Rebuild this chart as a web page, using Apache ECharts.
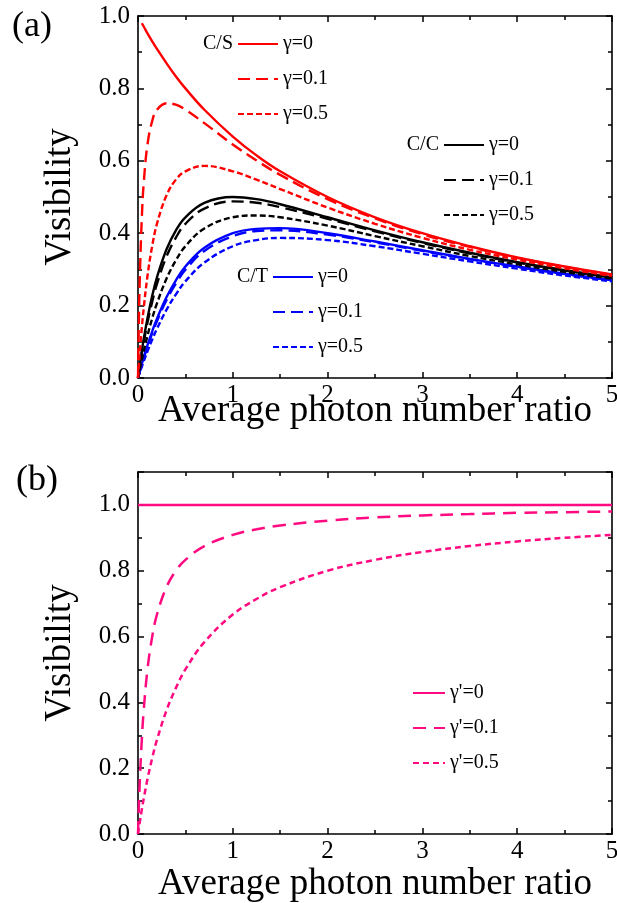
<!DOCTYPE html>
<html>
<head>
<meta charset="utf-8">
<script src="https://cdn.jsdelivr.net/npm/echarts@6/dist/echarts.min.js"></script>
<style>
html,body{margin:0;padding:0;background:#fff;}
#chart{width:617px;height:903px;}
</style>
</head>
<body>
<div id="chart"></div>
<script>
// x grid (average photon number ratio)
var xs = [0, 0.01, 0.02, 0.04, 0.06, 0.1, 0.15, 0.2, 0.3, 0.4, 0.5, 0.7, 1, 1.25, 1.5, 2, 2.5, 3, 3.5, 4, 4.5, 5];

// Panel (a): C/S
var csG0 = [null, null, null, 0.980, 0.971, 0.952, 0.930, 0.909, 0.870, 0.833, 0.800, 0.741, 0.667, 0.615, 0.571, 0.500, 0.444, 0.400, 0.364, 0.333, 0.308, 0.286];
var csG1 = [0, 0.167, 0.285, 0.441, 0.537, 0.645, 0.710, 0.741, 0.759, 0.755, 0.741, 0.704, 0.645, 0.601, 0.561, 0.494, 0.441, 0.397, 0.362, 0.332, 0.307, 0.285];
var csG5 = [0, 0.0385, 0.074, 0.138, 0.192, 0.282, 0.365, 0.426, 0.504, 0.548, 0.571, 0.586, 0.571, 0.548, 0.522, 0.471, 0.426, 0.387, 0.354, 0.327, 0.303, 0.282];
// Panel (a): C/C
var ccG0 = [0, 0.0196, 0.0384, 0.074, 0.107, 0.165, 0.227, 0.278, 0.355, 0.408, 0.444, 0.484, 0.500, 0.494, 0.480, 0.444, 0.408, 0.375, 0.346, 0.320, 0.298, 0.278];
var ccG1 = [0, 0.0179, 0.0351, 0.0677, 0.098, 0.153, 0.211, 0.260, 0.335, 0.388, 0.426, 0.468, 0.488, 0.484, 0.472, 0.440, 0.405, 0.373, 0.344, 0.319, 0.297, 0.277];
var ccG5 = [0, 0.0132, 0.026, 0.0506, 0.0739, 0.117, 0.165, 0.206, 0.274, 0.325, 0.364, 0.413, 0.444, 0.449, 0.444, 0.421, 0.392, 0.364, 0.337, 0.314, 0.293, 0.274];
// Panel (a): C/T
var ctG0 = [0, 0.0099, 0.0196, 0.0384, 0.0565, 0.0905, 0.129, 0.164, 0.223, 0.270, 0.308, 0.360, 0.400, 0.412, 0.414, 0.400, 0.377, 0.353, 0.329, 0.308, 0.288, 0.270];
var ctG1 = [0, 0.0094, 0.0187, 0.0367, 0.054, 0.0866, 0.124, 0.157, 0.215, 0.261, 0.299, 0.351, 0.392, 0.406, 0.408, 0.396, 0.375, 0.351, 0.328, 0.307, 0.287, 0.270];
var ctG5 = [0, 0.0079, 0.0157, 0.031, 0.0457, 0.0738, 0.106, 0.136, 0.188, 0.231, 0.267, 0.319, 0.364, 0.381, 0.387, 0.381, 0.364, 0.343, 0.322, 0.302, 0.283, 0.267];
// Panel (b)
var bG0 = [1, 1, 1, 1, 1, 1, 1, 1, 1, 1, 1, 1, 1, 1, 1, 1, 1, 1, 1, 1, 1, 1];
var bG1 = [0, 0.0909, 0.167, 0.286, 0.375, 0.500, 0.600, 0.667, 0.750, 0.800, 0.833, 0.875, 0.909, 0.926, 0.9375, 0.952, 0.962, 0.968, 0.972, 0.976, 0.978, 0.980];
var bG5 = [0, 0.0196, 0.0385, 0.074, 0.107, 0.167, 0.231, 0.286, 0.375, 0.444, 0.500, 0.583, 0.667, 0.714, 0.750, 0.800, 0.833, 0.857, 0.875, 0.889, 0.900, 0.909];

var xTicks = [0, 1, 2, 3, 4, 5];
var legendLabels = {
  CS0: 'γ=0', CS1: 'γ=0.1', CS5: 'γ=0.5',
  CC0: 'γ=0', CC1: 'γ=0.1', CC5: 'γ=0.5',
  CT0: 'γ=0', CT1: 'γ=0.1', CT5: 'γ=0.5',
  B0: "γ'=0", B1: "γ'=0.1", B5: "γ'=0.5"
};

var FONT = 'Liberation Serif';
var RED = '#ff0000', BLACK = '#000000', BLUE = '#0000ff', PINK = '#ff0a80';
var LONG = [12, 6], SHORT = [6, 3];

function pairs(arr) {
  var out = [];
  for (var i = 0; i < xs.length; i++) { if (arr[i] !== null) out.push([xs[i], arr[i]]); }
  return out;
}
function line(name, arr, color, type, xi, yi, w) {
  return {
    name: name, type: 'line', xAxisIndex: xi, yAxisIndex: yi,
    data: pairs(arr), symbol: 'none', smooth: 0.4,
    color: color,
    lineStyle: { color: color, width: w || 2.4, type: type, cap: 'butt' },
    itemStyle: { color: color },
    emphasis: { disabled: true }, silent: true, animation: false
  };
}

var axisLineStyle = { color: '#000', width: 1.6 };
function xAxisDef(grid, pos, showLabel, title, gap) {
  return {
    type: 'value', gridIndex: grid, position: pos, min: 0, max: 5, interval: 1,
    axisLine: { show: true, onZero: false, lineStyle: axisLineStyle },
    axisTick: { show: true, inside: true, length: 6, lineStyle: { color: '#000', width: 1.5 } },
    minorTick: { show: true, splitNumber: 2, length: 4, lineStyle: { color: '#000', width: 1.5 } },
    splitLine: { show: false }, minorSplitLine: { show: false },
    axisLabel: { show: showLabel, fontSize: 25, fontFamily: FONT, color: '#000', margin: 5,
      formatter: function (v) { return xTicks.indexOf(v) >= 0 ? String(v) : ''; } },
    name: title || '', nameLocation: 'middle', nameGap: gap || 30, nameMoveOverlap: false,
    nameTextStyle: { fontSize: 37, fontFamily: FONT, color: '#000' }
  };
}
function yAxisDef(grid, pos, showLabel, max, title) {
  return {
    type: 'value', gridIndex: grid, position: pos, min: 0, max: max, interval: 0.2,
    axisLine: { show: true, onZero: false, lineStyle: axisLineStyle },
    axisTick: { show: true, inside: true, length: 6, lineStyle: { color: '#000', width: 1.5 } },
    minorTick: { show: true, splitNumber: 2, length: 4, lineStyle: { color: '#000', width: 1.5 } },
    splitLine: { show: false }, minorSplitLine: { show: false },
    axisLabel: { show: showLabel, fontSize: 25, fontFamily: FONT, color: '#000', margin: 8,
      showMaxLabel: max === 1.0, formatter: function (v) { return v.toFixed(1); } },
    name: title || '', nameLocation: 'middle', nameGap: 59, nameMoveOverlap: false,
    nameTextStyle: { fontSize: 37, fontFamily: FONT, color: '#000' }
  };
}

function legendDef(names, left, top, w) {
  return {
    data: names, orient: 'vertical', left: left, top: top, padding: 0,
    itemWidth: w, itemHeight: 12, itemGap: 15, selectedMode: false,
    itemStyle: { opacity: 0 },
    textStyle: { fontSize: 20, fontFamily: FONT, color: '#000', lineHeight: 20 },
    formatter: function (n) { return legendLabels[n]; }
  };
}

var option = {
  backgroundColor: '#fff',
  animation: false,
  grid: [
    { left: 138, top: 16, width: 474, height: 362, outerBoundsMode: 'none', containLabel: false },
    { left: 138, top: 472, width: 474, height: 362, outerBoundsMode: 'none', containLabel: false }
  ],
  xAxis: [
    xAxisDef(0, 'bottom', true, 'Average photon number ratio', 15),
    xAxisDef(0, 'top', false),
    xAxisDef(1, 'bottom', true, 'Average photon number ratio', 32),
    xAxisDef(1, 'top', false)
  ],
  yAxis: [
    yAxisDef(0, 'left', true, 1.0, 'Visibility'),
    yAxisDef(0, 'right', false, 1.0),
    yAxisDef(1, 'left', true, 1.1, 'Visibility'),
    yAxisDef(1, 'right', false, 1.1)
  ],
  legend: [
    legendDef(['CS0', 'CS1', 'CS5'], 237, 34, 40),
    legendDef(['CC0', 'CC1', 'CC5'], 443, 135, 40),
    legendDef(['CT0', 'CT1', 'CT5'], 272, 267, 40),
    legendDef(['B0', 'B1', 'B5'], 412, 683, 32)
  ],
  graphic: [
    { type: 'text', left: 12, top: 9, style: { text: '(a)', font: '36px "Liberation Serif"', fill: '#000' } },
    { type: 'text', left: 16, top: 463, style: { text: '(b)', font: '36px "Liberation Serif"', fill: '#000' } },
    { type: 'text', x: 233, y: 44, style: { text: 'C/S', font: '20px "Liberation Serif"', fill: '#000', align: 'right', verticalAlign: 'middle' } },
    { type: 'text', x: 439, y: 145, style: { text: 'C/C', font: '20px "Liberation Serif"', fill: '#000', align: 'right', verticalAlign: 'middle' } },
    { type: 'text', x: 268, y: 277, style: { text: 'C/T', font: '20px "Liberation Serif"', fill: '#000', align: 'right', verticalAlign: 'middle' } }
  ],
  series: [
    line('CT0', ctG0, BLUE, 'solid', 0, 0),
    line('CT1', ctG1, BLUE, LONG, 0, 0),
    line('CT5', ctG5, BLUE, SHORT, 0, 0),
    line('CC0', ccG0, BLACK, 'solid', 0, 0),
    line('CC1', ccG1, BLACK, LONG, 0, 0),
    line('CC5', ccG5, BLACK, SHORT, 0, 0),
    line('CS0', csG0, RED, 'solid', 0, 0),
    line('CS1', csG1, RED, LONG, 0, 0),
    line('CS5', csG5, RED, SHORT, 0, 0),
    line('B0', bG0, PINK, 'solid', 2, 2, 2.5),
    line('B1', bG1, PINK, [13, 8], 2, 2, 2.5),
    line('B5', bG5, PINK, [6, 4], 2, 2, 2.5)
  ]
};

var chart = echarts.init(document.getElementById('chart'), null, { renderer: 'canvas' });
chart.setOption(option);
</script>
</body>
</html>
